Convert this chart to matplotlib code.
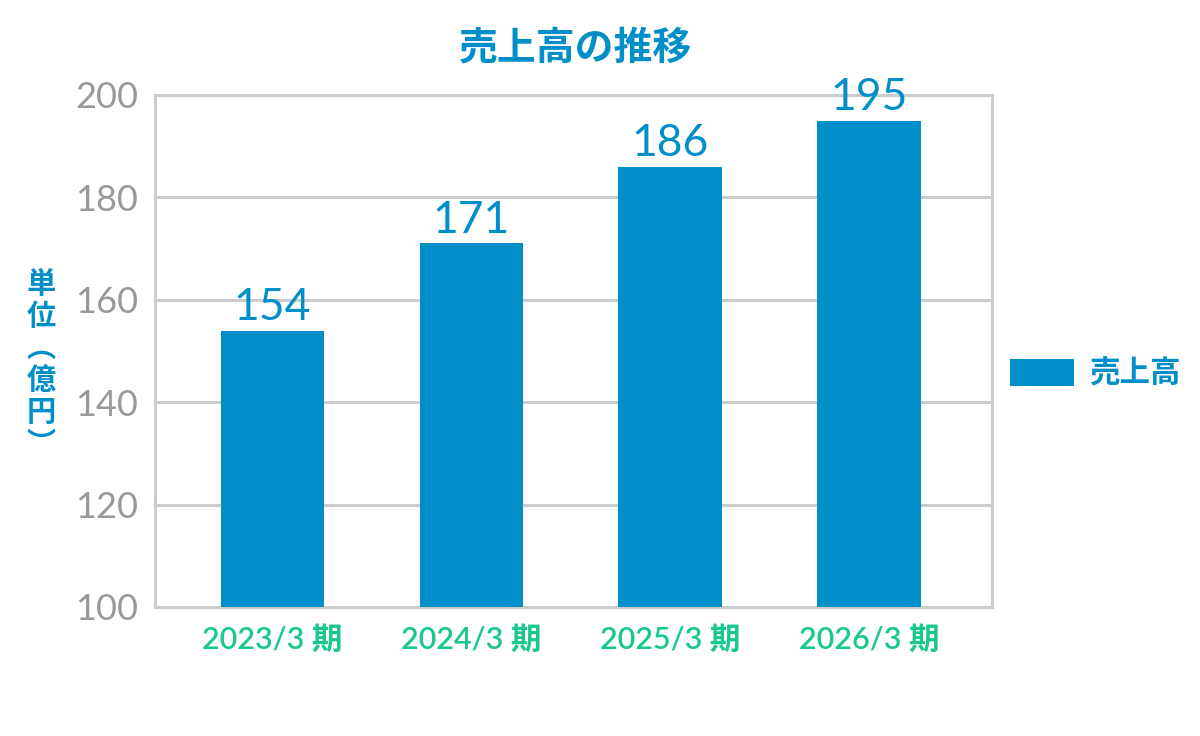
import matplotlib
matplotlib.use("Agg")
import matplotlib.pyplot as plt
import numpy as np

plt.rcParams['font.family'] = ['Noto Sans CJK JP', 'DejaVu Sans']
NUM_FONT = ['Lato', 'Noto Sans CJK JP']

# data
periods = ["2023/3 期", "2024/3 期", "2025/3 期", "2026/3 期"]
sales = [154, 171, 186, 195]
series_name = "売上高"
title = "売上高の推移"
unit_chars = ["単", "位", "︵", "億", "円", "︶"]
y_ticks = [100, 120, 140, 160, 180, 200]

BLUE = "#008fc8"
GREEN = "#19c98b"
GRAY_TXT = "#999999"
GRID = "#cccccc"

fig = plt.figure(figsize=(12, 7.36), dpi=100)
ax = fig.add_axes([155 / 1200, 1 - 607 / 736, (992 - 155) / 1200, (607 - 95) / 736])

x = np.arange(len(periods))
bars = ax.bar(x, sales, width=0.52, color=BLUE, label=series_name, zorder=3)

ax.set_ylim(100, 200)
ax.set_xlim(-0.59, 3.618)
ax.set_yticks(y_ticks)
ax.set_yticklabels([str(t) for t in y_ticks], family=NUM_FONT, fontsize=26,
                   color=GRAY_TXT)
ax.set_xticks(x)
ax.set_xticklabels(periods, family=NUM_FONT, color=GREEN, fontsize=22,
                   fontweight="semibold")
ax.tick_params(axis="y", length=0, pad=12)
ax.tick_params(axis="x", length=0, pad=13)

ax.grid(axis="y", color=GRID, linewidth=2.2, zorder=0)
for side in ["left", "right", "top", "bottom"]:
    ax.spines[side].set_color(GRID)
    ax.spines[side].set_linewidth(2.2)

# value labels on top of the bars
for rect, v in zip(bars, sales):
    ax.annotate(str(v), (rect.get_x() + rect.get_width() / 2, v),
                xytext=(0, 2), textcoords="offset points",
                ha="center", va="bottom", fontsize=32, color=BLUE,
                family=NUM_FONT)

fig.text(575 / 1200, 1 - 49 / 736, title, ha="center", va="center",
         fontsize=28, fontweight="bold", color=BLUE)

# vertical unit label, one character per line
y0 = 284
for i, ch in enumerate(unit_chars):
    fig.text(41 / 1200, 1 - (y0 + i * 32) / 736, ch, ha="center", va="center",
             fontsize=21, fontweight="bold", color=BLUE)

ax.legend(loc="center left", bbox_to_anchor=(1010 / 1200, 1 - 374 / 736),
          bbox_transform=fig.transFigure, frameon=False, borderpad=0,
          borderaxespad=0, handlelength=2.1, handleheight=1.0,
          handletextpad=0.5, prop={"size": 22, "weight": "bold"},
          labelcolor=BLUE)

fig.savefig("out.png", dpi=100)
